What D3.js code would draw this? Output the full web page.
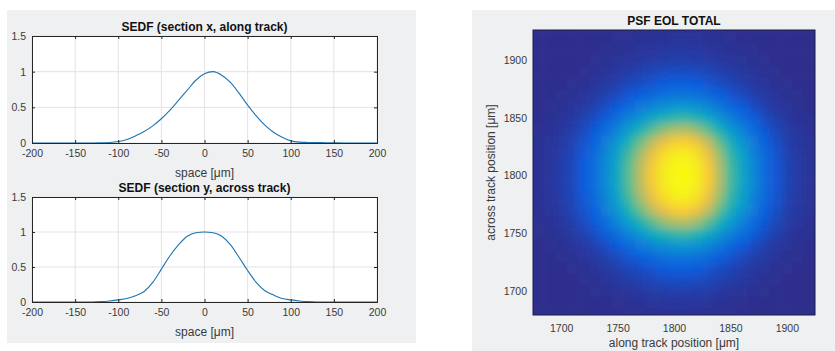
<!DOCTYPE html>
<html><head><meta charset="utf-8">
<script src="https://cdn.jsdelivr.net/npm/d3@7"></script>
<style>
body{margin:0;background:#fff;}
text{font-family:"Liberation Sans",Arial,Helvetica,sans-serif;}
</style>
</head><body>
<svg id="c" width="835" height="351"></svg>
<script>
// ---------- data ----------
const spaceTicks = [-200,-150,-100,-50,0,50,100,150,200];
const sedfTicks = [0,0.5,1,1.5];
const space = [-200,-190,-180,-170,-160,-150,-140,-130,-120,-110,-100,-90,-80,-70,-60,-50,-40,-30,-20,-10,0,10,20,30,40,50,60,70,80,90,100,110,120,130,140,150,160,170,180,190,200];
const sedfAlong = [0,0,0,0,0,0,0,0,0.002,0.006,0.02,0.05,0.1,0.16,0.24,0.34,0.46,0.6,0.74,0.88,0.97,1.0,0.95,0.85,0.7,0.53,0.38,0.25,0.15,0.08,0.03,0.012,0.008,0.006,0.004,0.002,0,0,0,0,0];
const sedfAcross = [0,0,0,0,0,0,0,0,0.005,0.015,0.03,0.05,0.09,0.15,0.28,0.47,0.66,0.82,0.94,0.99,1.0,0.99,0.94,0.82,0.64,0.45,0.28,0.16,0.1,0.05,0.03,0.015,0.005,0,0,0,0,0,0,0,0];

const psfPos = [1670,1680,1690,1700,1710,1720,1730,1740,1750,1760,1770,1780,1790,1800,1810,1820,1830,1840,1850,1860,1870,1880,1890,1900,1910,1920,1930];
const psfAlong = [0.008,0.012,0.02,0.035,0.06,0.1,0.16,0.25,0.36,0.5,0.64,0.78,0.9,0.98,1.0,0.93,0.8,0.63,0.47,0.35,0.24,0.15,0.09,0.05,0.03,0.018,0.01];
const psfAcross = [0.008,0.012,0.02,0.04,0.07,0.11,0.18,0.29,0.45,0.63,0.8,0.92,0.98,1.0,0.98,0.92,0.8,0.62,0.44,0.29,0.18,0.11,0.07,0.04,0.025,0.015,0.01];
const psfTicks = [1700,1750,1800,1850,1900];

const parulaStops = [0,0.1,0.2,0.3,0.4,0.5,0.6,0.7,0.8,0.9,1];
const parulaColors = ["#2f2d8c","#0f5cdd","#127dd8","#079ccf","#15b1b4","#59bd8c","#a5be6b","#e1b952","#fcce2e","#f5e924","#f9fb0e"];

// ---------- drawing ----------
const svg = d3.select("#c");
const axisCol = "#262626";
const textCol = "#3a3a3a";
const fmt = d => String(d); // plain hyphen minus like MATLAB

svg.append("rect").attr("x",7).attr("y",10).attr("width",409).attr("height",333).attr("fill","#eef0f2");
svg.append("rect").attr("x",472).attr("y",10).attr("width",363).attr("height",341).attr("fill","#eef0f2");

function linePlot(x0,y0,w,h,vals,title){
  const g = svg.append("g");
  const xs = d3.scaleLinear().domain([-200,200]).range([x0,x0+w]);
  const ys = d3.scaleLinear().domain([0,1.5]).range([y0+h,y0]);
  g.append("rect").attr("x",x0).attr("y",y0).attr("width",w).attr("height",h).attr("fill","#fff");
  g.selectAll(".gx").data(spaceTicks).join("line")
    .attr("x1",d=>xs(d)).attr("x2",d=>xs(d)).attr("y1",y0).attr("y2",y0+h)
    .attr("stroke","#e3e3e3").attr("stroke-width",1);
  g.selectAll(".gy").data(sedfTicks).join("line")
    .attr("y1",d=>ys(d)).attr("y2",d=>ys(d)).attr("x1",x0).attr("x2",x0+w)
    .attr("stroke","#e3e3e3").attr("stroke-width",1);
  const line = d3.line().x((d,i)=>xs(space[i])).y(d=>ys(d)).curve(d3.curveMonotoneX);
  g.append("path").datum(vals).attr("d",line).attr("fill","none")
    .attr("stroke","#1f74ad").attr("stroke-width",1.1);
  const ax = d3.axisBottom(xs).tickValues(spaceTicks).tickSize(-3).tickPadding(7).tickFormat(fmt);
  const gxa = g.append("g").attr("transform",`translate(0,${y0+h})`).call(ax);
  const axt = d3.axisTop(xs).tickValues(spaceTicks).tickSize(-3).tickFormat("");
  const gxt = g.append("g").attr("transform",`translate(0,${y0})`).call(axt);
  const ay = d3.axisLeft(ys).tickValues(sedfTicks).tickSize(-3).tickPadding(6).tickFormat(fmt);
  const gya = g.append("g").attr("transform",`translate(${x0},0)`).call(ay);
  const ayr = d3.axisRight(ys).tickValues(sedfTicks).tickSize(-3).tickFormat("");
  const gyr = g.append("g").attr("transform",`translate(${x0+w},0)`).call(ayr);
  [gxa,gxt,gya,gyr].forEach(a=>{
    a.select(".domain").attr("stroke",axisCol);
    a.selectAll(".tick line").attr("stroke",axisCol);
    a.selectAll("text").attr("fill",textCol).style("font-size","10.5px").style("font-family","Liberation Sans, Arial, sans-serif");
  });
  g.append("text").attr("x",x0+w/2).attr("y",y0-5).attr("text-anchor","middle")
    .style("font-size","12px").style("font-weight","bold").attr("fill","#111").text(title);
  g.append("text").attr("x",x0+w/2).attr("y",y0+h+34).attr("text-anchor","middle")
    .style("font-size","12px").attr("fill",textCol).text("space [\u03bcm]");
}
linePlot(32,36,345,107,sedfAlong,"SEDF (section x, along track)");
linePlot(32,197,345,105,sedfAcross,"SEDF (section y, across track)");

(function(){
  const x0=533,y0=30,w=282,h=285;
  const xs = d3.scaleLinear().domain([1675,1925]).range([x0,x0+w]);
  const ys = d3.scaleLinear().domain([1679,1926]).range([y0+h,y0]);
  const color = d3.scaleLinear().domain(parulaStops).range(parulaColors).interpolate(d3.interpolateRgb).clamp(true);
  const defs = svg.append("defs");
  defs.append("clipPath").attr("id","hmclip").append("rect").attr("x",x0).attr("y",y0).attr("width",w).attr("height",h);
  const f = defs.append("filter").attr("id","blur").attr("x",-0.1).attr("y",-0.1).attr("width",1.2).attr("height",1.2);
  f.append("feGaussianBlur").attr("stdDeviation",4.5);
  const cells=[];
  psfPos.forEach((px,i)=>psfPos.forEach((py,j)=>cells.push({x:px,y:py,v:psfAlong[i]*psfAcross[j]})));
  const outer = svg.append("g").attr("clip-path","url(#hmclip)");
  const inner = outer.append("g").attr("filter","url(#blur)");
  inner.selectAll("rect").data(cells).join("rect")
    .attr("x",d=>xs(d.x-5)).attr("y",d=>ys(d.y+5))
    .attr("width",xs(10)-xs(0)+0.6).attr("height",ys(0)-ys(10)+0.6)
    .attr("fill",d=>color(d.v));
  svg.append("rect").attr("x",x0).attr("y",y0).attr("width",w).attr("height",h)
    .attr("fill","none").attr("stroke","#1c1c40").attr("stroke-width",1);
  const ax = d3.axisBottom(xs).tickValues(psfTicks).tickSize(0).tickPadding(10).tickFormat(fmt);
  const gx = svg.append("g").attr("transform",`translate(0,${y0+h})`).call(ax);
  const ay = d3.axisLeft(ys).tickValues(psfTicks).tickSize(0).tickPadding(6).tickFormat(fmt);
  const gy = svg.append("g").attr("transform",`translate(${x0},0)`).call(ay);
  [gx,gy].forEach(a=>{
    a.select(".domain").remove();
    a.selectAll("text").attr("fill",textCol).style("font-size","10.5px").style("font-family","Liberation Sans, Arial, sans-serif");
  });
  svg.append("text").attr("x",x0+w/2).attr("y",y0-5).attr("text-anchor","middle")
    .style("font-size","12px").style("font-weight","bold").attr("fill","#111").text("PSF EOL TOTAL");
  svg.append("text").attr("x",x0+w/2).attr("y",y0+h+32).attr("text-anchor","middle")
    .style("font-size","12px").attr("fill",textCol).text("along track position [\u03bcm]");
  svg.append("text").attr("transform",`translate(${x0-38},${y0+h/2}) rotate(-90)`).attr("text-anchor","middle")
    .style("font-size","12px").attr("fill",textCol).text("across track position [\u03bcm]");
})();
</script>
</body></html>
